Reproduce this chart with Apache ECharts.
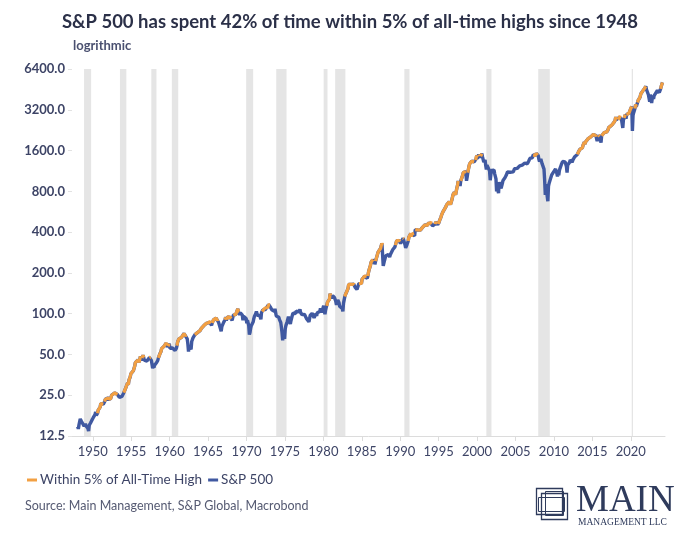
<!DOCTYPE html>
<html>
<head>
<meta charset="utf-8">
<script src="https://cdn.jsdelivr.net/npm/echarts@6/dist/echarts.min.js"></script>
<style>
  html, body { margin: 0; padding: 0; background: #ffffff; }
  #chart { width: 700px; height: 542px; }
</style>
</head>
<body>
<div id="chart"></div>
<script>
// ---- Data (monthly S&P 500 levels) ----
const spx1940s = [ // 1948-01 .. 1949-12
  14.7, 14.1, 15.1, 15.5, 16.7, 16.7, 16.0, 15.8, 15.5, 16.5, 14.8, 15.2,
  15.4, 14.8, 15.1, 14.7, 14.2, 13.6, 15.0, 15.3, 15.6, 16.0, 16.3, 16.8
];
const spx1950s = [
  17.0, 17.2, 17.3, 18.0, 18.8, 17.7, 17.8, 18.4, 19.4, 19.5, 19.5, 20.4,
  21.7, 22.0, 21.5, 22.4, 21.5, 21.0, 22.4, 23.3, 23.3, 22.9, 22.9, 23.8,
  24.1, 23.3, 24.4, 23.3, 23.9, 25.0, 25.4, 25.0, 24.5, 24.5, 26.0, 26.6,
  26.4, 25.9, 25.3, 24.6, 24.5, 24.1, 24.8, 23.3, 23.4, 24.5, 24.8, 24.8,
  26.1, 26.2, 26.9, 28.3, 29.2, 29.2, 30.9, 29.8, 32.3, 31.7, 34.2, 36.0,
  36.6, 37.0, 36.6, 38.0, 37.9, 41.0, 43.5, 43.2, 43.7, 42.3, 45.5, 45.5,
  43.8, 45.3, 48.5, 48.4, 45.2, 47.0, 49.4, 47.5, 45.4, 45.6, 45.1, 46.7,
  44.7, 43.3, 44.1, 45.7, 47.4, 47.4, 47.9, 45.2, 42.4, 39.5, 41.7, 40.0,
  41.7, 40.8, 42.1, 43.4, 44.1, 45.2, 47.2, 47.8, 50.1, 51.3, 52.5, 55.2,
  55.4, 55.4, 55.4, 57.6, 58.7, 58.5, 60.5, 59.6, 56.9, 57.5, 58.3, 59.9
];
const spx1960s = [
  55.6, 56.1, 55.3, 54.4, 55.8, 56.9, 55.5, 56.5, 53.5, 52.5, 55.5, 58.1,
  61.8, 63.4, 65.1, 65.3, 66.6, 64.6, 66.8, 68.1, 66.7, 68.6, 71.3, 71.6,
  68.8, 70.0, 69.6, 65.2, 59.6, 52.5, 58.2, 59.1, 56.3, 54.5, 62.3, 63.1,
  66.2, 64.3, 66.6, 70.0, 70.8, 69.4, 69.1, 72.5, 71.7, 74.0, 73.2, 75.0,
  77.0, 77.8, 79.0, 79.5, 80.4, 81.7, 83.2, 81.8, 84.2, 84.9, 84.4, 84.8,
  87.6, 87.4, 86.2, 89.1, 88.4, 82.0, 85.3, 87.2, 90.0, 92.4, 91.6, 92.4,
  92.9, 91.2, 89.2, 91.1, 86.1, 84.7, 83.6, 77.1, 74.0, 80.2, 80.5, 80.3,
  86.6, 87.0, 90.2, 94.0, 89.1, 90.6, 94.8, 93.6, 96.7, 93.3, 94.0, 96.5,
  92.2, 89.4, 88.0, 97.6, 98.7, 99.6, 97.7, 98.9, 102.7, 103.4, 108.4, 103.9,
  103.0, 98.1, 101.5, 103.7, 103.5, 97.7, 89.5, 95.5, 93.1, 97.2, 93.8, 92.1
];
const spx1970s = [
  85.0, 89.5, 89.6, 81.5, 70.0, 72.7, 78.1, 81.5, 84.2, 83.3, 87.2, 92.2,
  95.9, 96.8, 100.3, 103.9, 99.6, 99.7, 95.6, 99.0, 98.3, 94.2, 91.0, 102.1,
  103.9, 106.6, 107.2, 107.7, 109.5, 107.1, 107.4, 111.1, 110.6, 111.6, 116.7, 118.1,
  116.0, 111.7, 111.5, 107.0, 105.0, 104.3, 108.2, 104.3, 108.4, 108.3, 96.0, 97.6,
  96.6, 96.2, 94.0, 90.3, 87.3, 86.0, 79.3, 72.2, 63.5, 73.9, 70.0, 65.0,
  77.0, 81.6, 83.4, 87.3, 91.2, 95.2, 88.8, 86.9, 83.9, 89.0, 91.2, 90.2,
  100.9, 99.7, 102.8, 101.6, 100.2, 104.3, 103.4, 102.9, 105.2, 102.9, 102.1, 107.5,
  102.0, 99.8, 98.4, 98.4, 96.1, 100.5, 98.9, 96.8, 96.5, 92.3, 94.8, 95.1,
  89.3, 87.0, 89.2, 97.0, 97.2, 95.5, 100.7, 103.3, 102.5, 93.2, 94.7, 96.1,
  99.9, 96.3, 101.6, 101.8, 99.1, 102.9, 103.8, 109.3, 109.3, 101.8, 106.2, 107.9
];
const spx1980s = [
  114.2, 113.7, 99.0, 106.3, 111.2, 114.2, 121.7, 122.4, 125.5, 127.5, 140.5, 135.8,
  129.6, 131.3, 136.0, 132.8, 132.6, 131.2, 130.9, 122.8, 116.2, 121.9, 126.4, 122.6,
  120.4, 113.1, 112.0, 116.4, 111.9, 109.6, 104.0, 119.5, 120.4, 133.7, 138.5, 140.6,
  145.3, 148.1, 153.0, 164.4, 162.4, 168.1, 162.6, 164.4, 166.1, 163.6, 166.4, 164.9,
  163.4, 157.1, 159.2, 160.1, 150.6, 153.2, 150.7, 166.7, 166.1, 166.1, 163.6, 167.2,
  179.6, 181.2, 180.7, 179.8, 189.6, 191.9, 190.9, 188.6, 182.1, 189.8, 202.2, 211.3,
  211.8, 226.9, 238.9, 235.5, 247.4, 250.8, 236.1, 252.9, 231.3, 244.0, 249.2, 242.2,
  274.1, 284.2, 291.7, 288.4, 290.1, 304.0, 318.7, 329.8, 321.8, 225.0, 230.3, 247.1,
  257.1, 267.8, 258.9, 261.3, 262.2, 273.5, 272.0, 261.5, 271.9, 279.0, 273.7, 277.7,
  297.5, 288.9, 294.9, 309.6, 320.5, 318.0, 346.1, 351.5, 349.2, 340.4, 346.0, 353.4
];
const spx1990s = [
  329.1, 331.9, 339.9, 330.8, 361.2, 358.0, 356.2, 322.6, 306.1, 296.0, 322.2, 330.2,
  343.9, 367.1, 375.2, 375.3, 389.8, 371.2, 387.8, 395.4, 387.9, 392.5, 375.2, 417.1,
  408.8, 412.7, 403.7, 415.0, 415.4, 408.1, 424.2, 414.0, 417.8, 418.7, 431.4, 435.7,
  438.8, 443.4, 451.7, 440.2, 450.2, 450.5, 448.1, 463.6, 458.9, 467.8, 461.8, 466.5,
  481.6, 467.1, 445.8, 450.9, 456.5, 444.3, 458.3, 475.5, 462.7, 472.4, 453.7, 459.3,
  470.4, 487.4, 500.7, 514.7, 533.4, 544.8, 562.1, 561.9, 584.4, 581.5, 605.4, 615.9,
  636.0, 640.4, 645.5, 654.2, 669.1, 670.6, 640.0, 652.0, 687.3, 705.3, 757.0, 740.7,
  786.2, 790.8, 757.1, 801.3, 848.3, 885.1, 954.3, 899.5, 947.3, 876.0, 955.4, 970.4,
  980.3, 1049.3, 1101.8, 1111.8, 1090.8, 1133.8, 1120.7, 957.3, 1017.0, 1098.7, 1163.6, 1229.2,
  1279.6, 1238.3, 1286.4, 1335.2, 1301.8, 1372.7, 1328.7, 1320.4, 1282.7, 1362.9, 1388.9, 1469.3
];
const spx2000s = [
  1394.5, 1366.4, 1498.6, 1452.4, 1420.6, 1454.6, 1430.8, 1517.7, 1436.5, 1429.4, 1315.2, 1320.3,
  1366.0, 1239.9, 1160.3, 1249.5, 1255.8, 1224.4, 1211.2, 1133.6, 966.0, 1059.8, 1139.5, 1148.1,
  1130.2, 1106.7, 1147.4, 1076.9, 1067.1, 989.8, 800.0, 916.1, 815.3, 777.0, 936.3, 879.8,
  855.7, 841.2, 848.2, 916.9, 963.6, 974.5, 990.3, 1008.0, 996.0, 1050.7, 1058.2, 1111.9,
  1131.1, 1144.9, 1126.2, 1107.3, 1120.7, 1140.8, 1101.7, 1104.2, 1114.6, 1130.2, 1173.8, 1211.9,
  1181.3, 1203.6, 1180.6, 1156.9, 1191.5, 1191.3, 1234.2, 1220.3, 1228.8, 1207.0, 1249.5, 1248.3,
  1280.1, 1280.7, 1294.8, 1310.6, 1270.1, 1270.2, 1276.7, 1303.8, 1335.8, 1377.9, 1400.6, 1418.3,
  1438.2, 1406.8, 1420.9, 1482.4, 1530.6, 1503.4, 1455.3, 1474.0, 1526.8, 1549.4, 1481.1, 1468.4,
  1378.6, 1330.6, 1322.7, 1385.6, 1400.4, 1280.0, 1267.4, 1282.8, 1166.4, 968.8, 752.0, 903.3,
  825.9, 735.1, 676.5, 872.8, 919.1, 919.3, 987.5, 1020.6, 1057.1, 1036.2, 1095.6, 1115.1
];
const spx2010s = [
  1073.9, 1104.5, 1169.4, 1186.7, 1089.4, 1030.7, 1101.6, 1049.3, 1141.2, 1183.3, 1180.6, 1257.6,
  1286.1, 1327.2, 1325.8, 1363.6, 1345.2, 1320.6, 1292.3, 1218.9, 1099.0, 1253.3, 1247.0, 1257.6,
  1312.4, 1365.7, 1408.5, 1397.9, 1310.3, 1362.2, 1379.3, 1406.6, 1440.7, 1412.2, 1416.2, 1426.2,
  1498.1, 1514.7, 1569.2, 1597.6, 1630.7, 1606.3, 1685.7, 1633.0, 1681.6, 1756.5, 1805.8, 1848.4,
  1782.6, 1859.5, 1872.3, 1884.0, 1923.6, 1960.2, 1930.7, 2003.4, 1972.3, 2018.1, 2067.6, 2058.9,
  1995.0, 2104.5, 2067.9, 2085.5, 2107.4, 2063.1, 2103.8, 1880.0, 1920.0, 2079.4, 2080.4, 2043.9,
  1940.2, 1832.0, 2059.7, 2065.3, 2097.0, 2098.9, 2173.6, 2171.0, 2168.3, 2126.2, 2198.8, 2238.8,
  2278.9, 2363.6, 2362.7, 2384.2, 2411.8, 2423.4, 2470.3, 2471.7, 2519.4, 2575.3, 2647.6, 2673.6,
  2823.8, 2713.8, 2640.9, 2648.1, 2705.3, 2718.4, 2816.3, 2901.5, 2914.0, 2711.7, 2760.2, 2351.0,
  2704.1, 2784.5, 2834.4, 2945.8, 2752.1, 2941.8, 2980.4, 2926.5, 2976.7, 3037.6, 3141.0, 3230.8
];
const spx2020s = [ // 2020-01 .. 2024-02
  3225.5, 3386.0, 2237.0, 2912.4, 3044.3, 3100.3, 3271.1, 3500.3, 3363.0, 3270.0, 3621.6, 3756.1,
  3714.2, 3811.2, 3972.9, 4181.2, 4204.1, 4297.5, 4395.3, 4522.7, 4307.5, 4605.4, 4567.0, 4766.2,
  4515.6, 4373.9, 4530.4, 4131.9, 4132.2, 3667.0, 4130.3, 3955.0, 3585.6, 3872.0, 4080.1, 3839.5,
  4076.6, 3970.2, 4109.3, 4169.5, 4179.8, 4450.4, 4589.0, 4507.7, 4288.1, 4193.8, 4567.8, 4769.8,
  4845.7, 5096.3
];
const decadeStarts = [1948, 1950, 1960, 1970, 1980, 1990, 2000, 2010, 2020];
const priorHigh = 19.25; // 1946 high, reference for "all-time high" at the start of the chart

// NBER recessions (decimal years)
const recessions = [
  [1948.87, 1949.79], [1953.54, 1954.37], [1957.62, 1958.29], [1960.29, 1961.12],
  [1969.96, 1970.87], [1973.87, 1975.21], [1980.04, 1980.54], [1981.54, 1982.87],
  [1990.54, 1991.21], [2001.21, 2001.87], [2007.96, 2009.46], [2020.12, 2020.29]
];

const xTickLabels = [1950, 1955, 1960, 1965, 1970, 1975, 1980, 1985, 1990, 1995, 2000, 2005, 2010, 2015, 2020];
const yTickLabels = [12.5, 25, 50, 100, 200, 400, 800, 1600, 3200, 6400];

const seriesNames = ['Within 5% of All-Time High', 'S&P 500'];

// ---- Build series ----
const decades = [spx1940s, spx1950s, spx1960s, spx1970s, spx1980s, spx1990s, spx2000s, spx2010s, spx2020s];
const spxData = [];
decades.forEach((arr, d) => {
  arr.forEach((v, i) => {
    spxData.push([decadeStarts[d] + (i + 0.5) / 12, v]);
  });
});
let runMax = priorHigh;
const athData = spxData.map(p => {
  runMax = Math.max(runMax, p[1]);
  return p[1] >= 0.95 * runMax ? [p[0], p[1]] : [p[0], null];
});

const navy = '#3d4466';
const chart = echarts.init(document.getElementById('chart'), null, { renderer: 'canvas' });
chart.setOption({
  animation: false,
  backgroundColor: '#ffffff',
  title: {
    text: 'S&P 500 has spent 42% of time within 5% of all-time highs since 1948',
    left: 'center',
    top: 8,
    textStyle: { fontFamily: 'Lato', fontSize: 18.5, fontWeight: 'bold', color: '#2b3048' }
  },
  grid: { left: 72, right: 35, top: 69, bottom: 106 },
  legend: {
    left: 22,
    top: 468,
    itemWidth: 10,
    itemHeight: 3,
    itemGap: 6,
    icon: 'rect',
    data: seriesNames,
    textStyle: { fontFamily: 'Lato', fontSize: 13.5, color: navy, padding: [0, 0, 0, -2] }
  },
  xAxis: {
    type: 'value',
    min: 1947.3,
    max: 2024.45,
    axisLine: { lineStyle: { color: '#dcdcdc', width: 1 } },
    axisTick: { show: true, customValues: xTickLabels, length: 5, lineStyle: { color: '#dcdcdc' } },
    axisLabel: {
      customValues: xTickLabels,
      formatter: v => String(Math.round(v)),
      fontFamily: 'Lato', fontSize: 13, color: navy, margin: 9
    },
    splitLine: { show: false }
  },
  yAxis: {
    type: 'log',
    logBase: 2,
    min: 12.5,
    max: 6400,
    axisLine: { show: false },
    axisTick: { show: true, customValues: yTickLabels, length: 4, lineStyle: { color: '#e2e2e2' } },
    axisLabel: {
      customValues: yTickLabels,
      formatter: v => (Math.round(v * 10) / 10).toFixed(1),
      fontFamily: 'Lato', fontSize: 13, fontWeight: 'bold', color: navy, margin: 7
    },
    splitLine: { show: false }
  },
  series: [
    {
      name: 'recessions',
      type: 'line',
      data: [],
      z: 0,
      silent: true,
      markArea: {
        silent: true,
        itemStyle: { color: '#e5e5e5' },
        data: recessions.map(r => [{ xAxis: r[0] }, { xAxis: r[1] }])
      }
    },
    {
      name: seriesNames[1],
      type: 'line',
      data: spxData,
      showSymbol: false,
      z: 2,
      lineStyle: { color: '#4059a1', width: 3.4 },
      itemStyle: { color: '#4059a1' }
    },
    {
      name: seriesNames[0],
      type: 'line',
      data: athData,
      showSymbol: false,
      connectNulls: false,
      z: 3,
      lineStyle: { color: '#f2a043', width: 3.2 },
      itemStyle: { color: '#f2a043' }
    }
  ],
  graphic: [
    {
      type: 'text', left: 73, top: 39,
      style: { text: 'logrithmic', font: 'bold 13px Lato', fill: '#4a5070' }
    },
    {
      type: 'text', left: 25, top: 499,
      style: { text: 'Source: Main Management, S&P Global, Macrobond', font: '12.5px Lato', fill: '#555a72' }
    },
    {
      type: 'group', left: 534, top: 486,
      children: [
        { type: 'rect', shape: { x: 0, y: 0, width: 26, height: 26 }, style: { fill: 'none', stroke: '#2f3b5c', lineWidth: 1.3 } },
        { type: 'rect', shape: { x: 5, y: 5, width: 26, height: 26 }, style: { fill: 'none', stroke: '#2f3b5c', lineWidth: 1.3 } },
        { type: 'rect', shape: { x: 9, y: 3, width: 18, height: 24 }, style: { fill: 'none', stroke: '#2f3b5c', lineWidth: 1 } },
        { type: 'rect', shape: { x: 2, y: 9, width: 26, height: 14 }, style: { fill: 'none', stroke: '#2f3b5c', lineWidth: 1 } }
      ]
    },
    {
      type: 'text', left: 576, top: 483,
      style: { text: 'MAIN', font: '37px "Liberation Serif"', fill: '#2f3b5c' }
    },
    {
      type: 'text', left: 578, top: 517,
      style: { text: 'MANAGEMENT LLC', font: '9.5px "Liberation Serif"', fill: '#2f3b5c' }
    }
  ]
});
</script>
</body>
</html>
